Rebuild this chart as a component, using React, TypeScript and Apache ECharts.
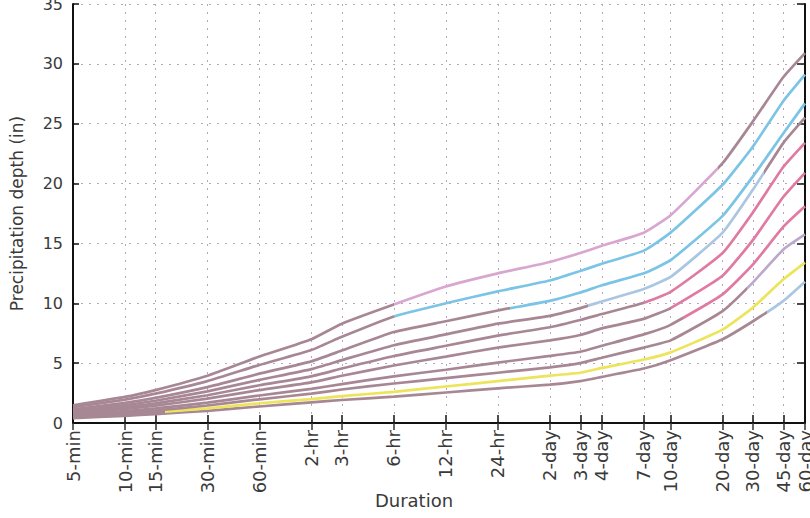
import React, { useEffect, useRef } from "react";
import * as echarts from "echarts";

// Durations (tick labels) and their length in minutes
const durationLabels = [
  "5-min", "10-min", "15-min", "30-min", "60-min", "2-hr", "3-hr", "6-hr", "12-hr", "24-hr",
  "2-day", "3-day", "4-day", "7-day", "10-day", "20-day", "30-day", "45-day", "60-day",
];
const durationMinutes = [
  5, 10, 15, 30, 60, 120, 180, 360, 720, 1440, 2880, 4320, 5760, 10080, 14400, 28800, 43200, 64800, 86400,
];

// Precipitation depth (in) per curve, bottom curve first
const curve1 = [0.4, 0.6, 0.74, 1.02, 1.38, 1.72, 1.92, 2.2, 2.55, 2.9, 3.2, 3.5, 3.85, 4.55, 5.25, 7.0, 8.5, 10.2, 11.8];
const curve2 = [0.47, 0.7, 0.88, 1.22, 1.65, 2.0, 2.25, 2.6, 3.05, 3.5, 3.95, 4.2, 4.6, 5.3, 5.9, 7.8, 9.65, 12.0, 13.4];
const curve3 = [0.58, 0.86, 1.05, 1.46, 1.98, 2.45, 2.8, 3.3, 3.75, 4.2, 4.65, 5.0, 5.45, 6.3, 6.9, 9.35, 11.75, 14.5, 15.75];
const curve4 = [0.67, 0.99, 1.22, 1.7, 2.3, 2.85, 3.25, 3.9, 4.45, 5.05, 5.6, 5.95, 6.45, 7.4, 8.2, 10.75, 13.25, 16.4, 18.1];
const curve5 = [0.8, 1.18, 1.45, 2.03, 2.75, 3.4, 3.95, 4.8, 5.55, 6.3, 6.9, 7.35, 7.9, 8.7, 9.6, 12.3, 15.3, 18.9, 20.9];
const curve6 = [0.9, 1.33, 1.64, 2.32, 3.15, 3.9, 4.55, 5.6, 6.45, 7.3, 8.0, 8.6, 9.1, 10.05, 10.95, 14.2, 17.6, 21.4, 23.4];
const curve7 = [1.02, 1.5, 1.86, 2.64, 3.6, 4.5, 5.25, 6.5, 7.4, 8.3, 8.95, 9.6, 10.15, 11.2, 12.2, 15.9, 19.5, 23.4, 25.5];
const curve8 = [1.14, 1.68, 2.1, 3.0, 4.12, 5.15, 6.05, 7.6, 8.5, 9.4, 10.2, 10.9, 11.5, 12.5, 13.6, 17.3, 20.6, 24.2, 26.7];
const curve9 = [1.32, 1.95, 2.45, 3.5, 4.85, 6.1, 7.2, 8.9, 10.0, 11.0, 11.9, 12.7, 13.3, 14.4, 15.9, 19.9, 23.1, 26.9, 29.1];
const curve10 = [1.48, 2.18, 2.75, 3.95, 5.55, 7.0, 8.3, 9.9, 11.4, 12.5, 13.45, 14.2, 14.8, 15.9, 17.35, 21.7, 25.2, 28.9, 30.9];

const yTicks = [0, 5, 10, 15, 20, 25, 30, 35];

const MAUVE = "#a88795";
const CYAN = "#7cc4e6";
const LIGHT_PINK = "#d8a6cf";
const PINK = "#e07aa2";
const YELLOW = "#ece45a";
const LIGHT_CYAN = "#aac6e2";
const LAVENDER = "#bba9cc";

// colour changes along each curve: [from duration (min), colour]
const curveStyles: { data: number[]; segs: [number, string][] }[] = [
  { data: curve1, segs: [[5, MAUVE], [52000, LIGHT_CYAN]] },
  { data: curve2, segs: [[5, MAUVE], [17, YELLOW]] },
  { data: curve3, segs: [[5, MAUVE], [40000, LAVENDER]] },
  { data: curve4, segs: [[5, MAUVE], [17000, PINK]] },
  { data: curve5, segs: [[5, MAUVE], [14400, PINK]] },
  { data: curve6, segs: [[5, MAUVE], [10080, PINK]] },
  { data: curve7, segs: [[5, MAUVE], [4800, LIGHT_CYAN], [50000, MAUVE]] },
  { data: curve8, segs: [[5, MAUVE], [1700, CYAN]] },
  { data: curve9, segs: [[5, MAUVE], [360, CYAN]] },
  { data: curve10, segs: [[5, MAUVE], [360, LIGHT_PINK], [27000, MAUVE]] },
];

const lx = (m: number) => Math.log2(m);
const X_MIN = lx(durationMinutes[0]);
const X_MAX = lx(durationMinutes[durationMinutes.length - 1]);
const tickValues = durationMinutes.map(lx);

function gradientFor(segs: [number, string][]) {
  const stops: { offset: number; color: string }[] = [];
  segs.forEach(([from, color], i) => {
    const start = (lx(from) - X_MIN) / (X_MAX - X_MIN);
    const end = i + 1 < segs.length ? (lx(segs[i + 1][0]) - X_MIN) / (X_MAX - X_MIN) : 1;
    stops.push({ offset: Math.max(0, start), color });
    stops.push({ offset: Math.min(1, end), color });
  });
  return new echarts.graphic.LinearGradient(0, 0, 1, 0, stops);
}

const labelFor = (v: number) => {
  const i = tickValues.findIndex((t) => Math.abs(t - v) < 1e-6);
  return i >= 0 ? durationLabels[i] : "";
};

export default function App() {
  const ref = useRef<HTMLDivElement>(null);
  useEffect(() => {
    if (!ref.current) return;
    const chart = echarts.init(ref.current, undefined, { renderer: "svg" });
    const font = "DejaVu Sans";
    const gridLine = { show: true, lineStyle: { color: "#b9a4bd", type: [2, 6] as any, width: 1 } };
    chart.setOption({
      animation: false,
      backgroundColor: "#ffffff",
      grid: { left: 73, right: 5, top: 4, bottom: 95, containLabel: false, outerBoundsMode: "none" },
      xAxis: [
        {
          type: "value",
          min: X_MIN,
          max: X_MAX,
          name: "Duration",
          nameLocation: "middle",
          nameGap: 68,
          nameMoveOverlap: false,
          nameTextStyle: { fontFamily: font, fontSize: 18, color: "#3a3a3a", padding: [0, 50, 0, 0], verticalAlign: "top" },
          axisLine: { show: true, lineStyle: { color: "#111", width: 2 } },
          axisTick: { show: true, inside: true, length: 8, customValues: tickValues, lineStyle: { color: "#111", width: 1.5 } },
          axisLabel: {
            customValues: tickValues,
            rotate: 90,
            margin: 7,
            fontFamily: font,
            fontSize: 18,
            color: "#3a3a3a",
            formatter: (v: number) => labelFor(v),
          },
          splitLine: gridLine,
        },
        {
          type: "value",
          position: "top",
          min: X_MIN,
          max: X_MAX,
          axisLine: { show: false },
          axisTick: { show: true, inside: true, length: 7, customValues: tickValues, lineStyle: { color: "#333", width: 1.5 } },
          axisLabel: { show: false },
          splitLine: { show: false },
        },
      ],
      yAxis: [
        {
          type: "value",
          min: 0,
          max: 35,
          interval: 5,
          name: "Precipitation depth (in)",
          nameLocation: "middle",
          nameGap: 48,
          nameMoveOverlap: false,
          nameTextStyle: { fontFamily: font, fontSize: 17, color: "#3a3a3a" },
          axisLine: { show: true, lineStyle: { color: "#111", width: 2 } },
          axisTick: { show: true, inside: true, length: 6, lineStyle: { color: "#111", width: 1.5 } },
          axisLabel: {
            margin: 10,
            fontFamily: font,
            fontSize: 16,
            color: "#3a3a3a",
            formatter: (v: number) => (yTicks.includes(v) ? String(v) : ""),
          },
          splitLine: gridLine,
        },
        {
          type: "value",
          position: "right",
          min: 0,
          max: 35,
          interval: 5,
          axisLine: { show: true, lineStyle: { color: "#111", width: 2 } },
          axisTick: { show: true, inside: true, length: 8, lineStyle: { color: "#111", width: 1.5 } },
          axisLabel: { show: false },
          splitLine: { show: false },
        },
      ],
      series: curveStyles.map((c, k) => ({
        name: `curve${k + 1}`,
        type: "line",
        xAxisIndex: 0,
        yAxisIndex: 0,
        showSymbol: false,
        smooth: 0.15,
        data: durationMinutes.map((m, i) => [lx(m), c.data[i]]),
        lineStyle: { width: 2.7, color: gradientFor(c.segs) },
        itemStyle: { color: c.segs[c.segs.length - 1][1] },
      })),
    });
    return () => chart.dispose();
  }, []);
  return <div ref={ref} style={{ position: "fixed", left: 0, top: 0, width: 810, height: 518 }} />;
}
